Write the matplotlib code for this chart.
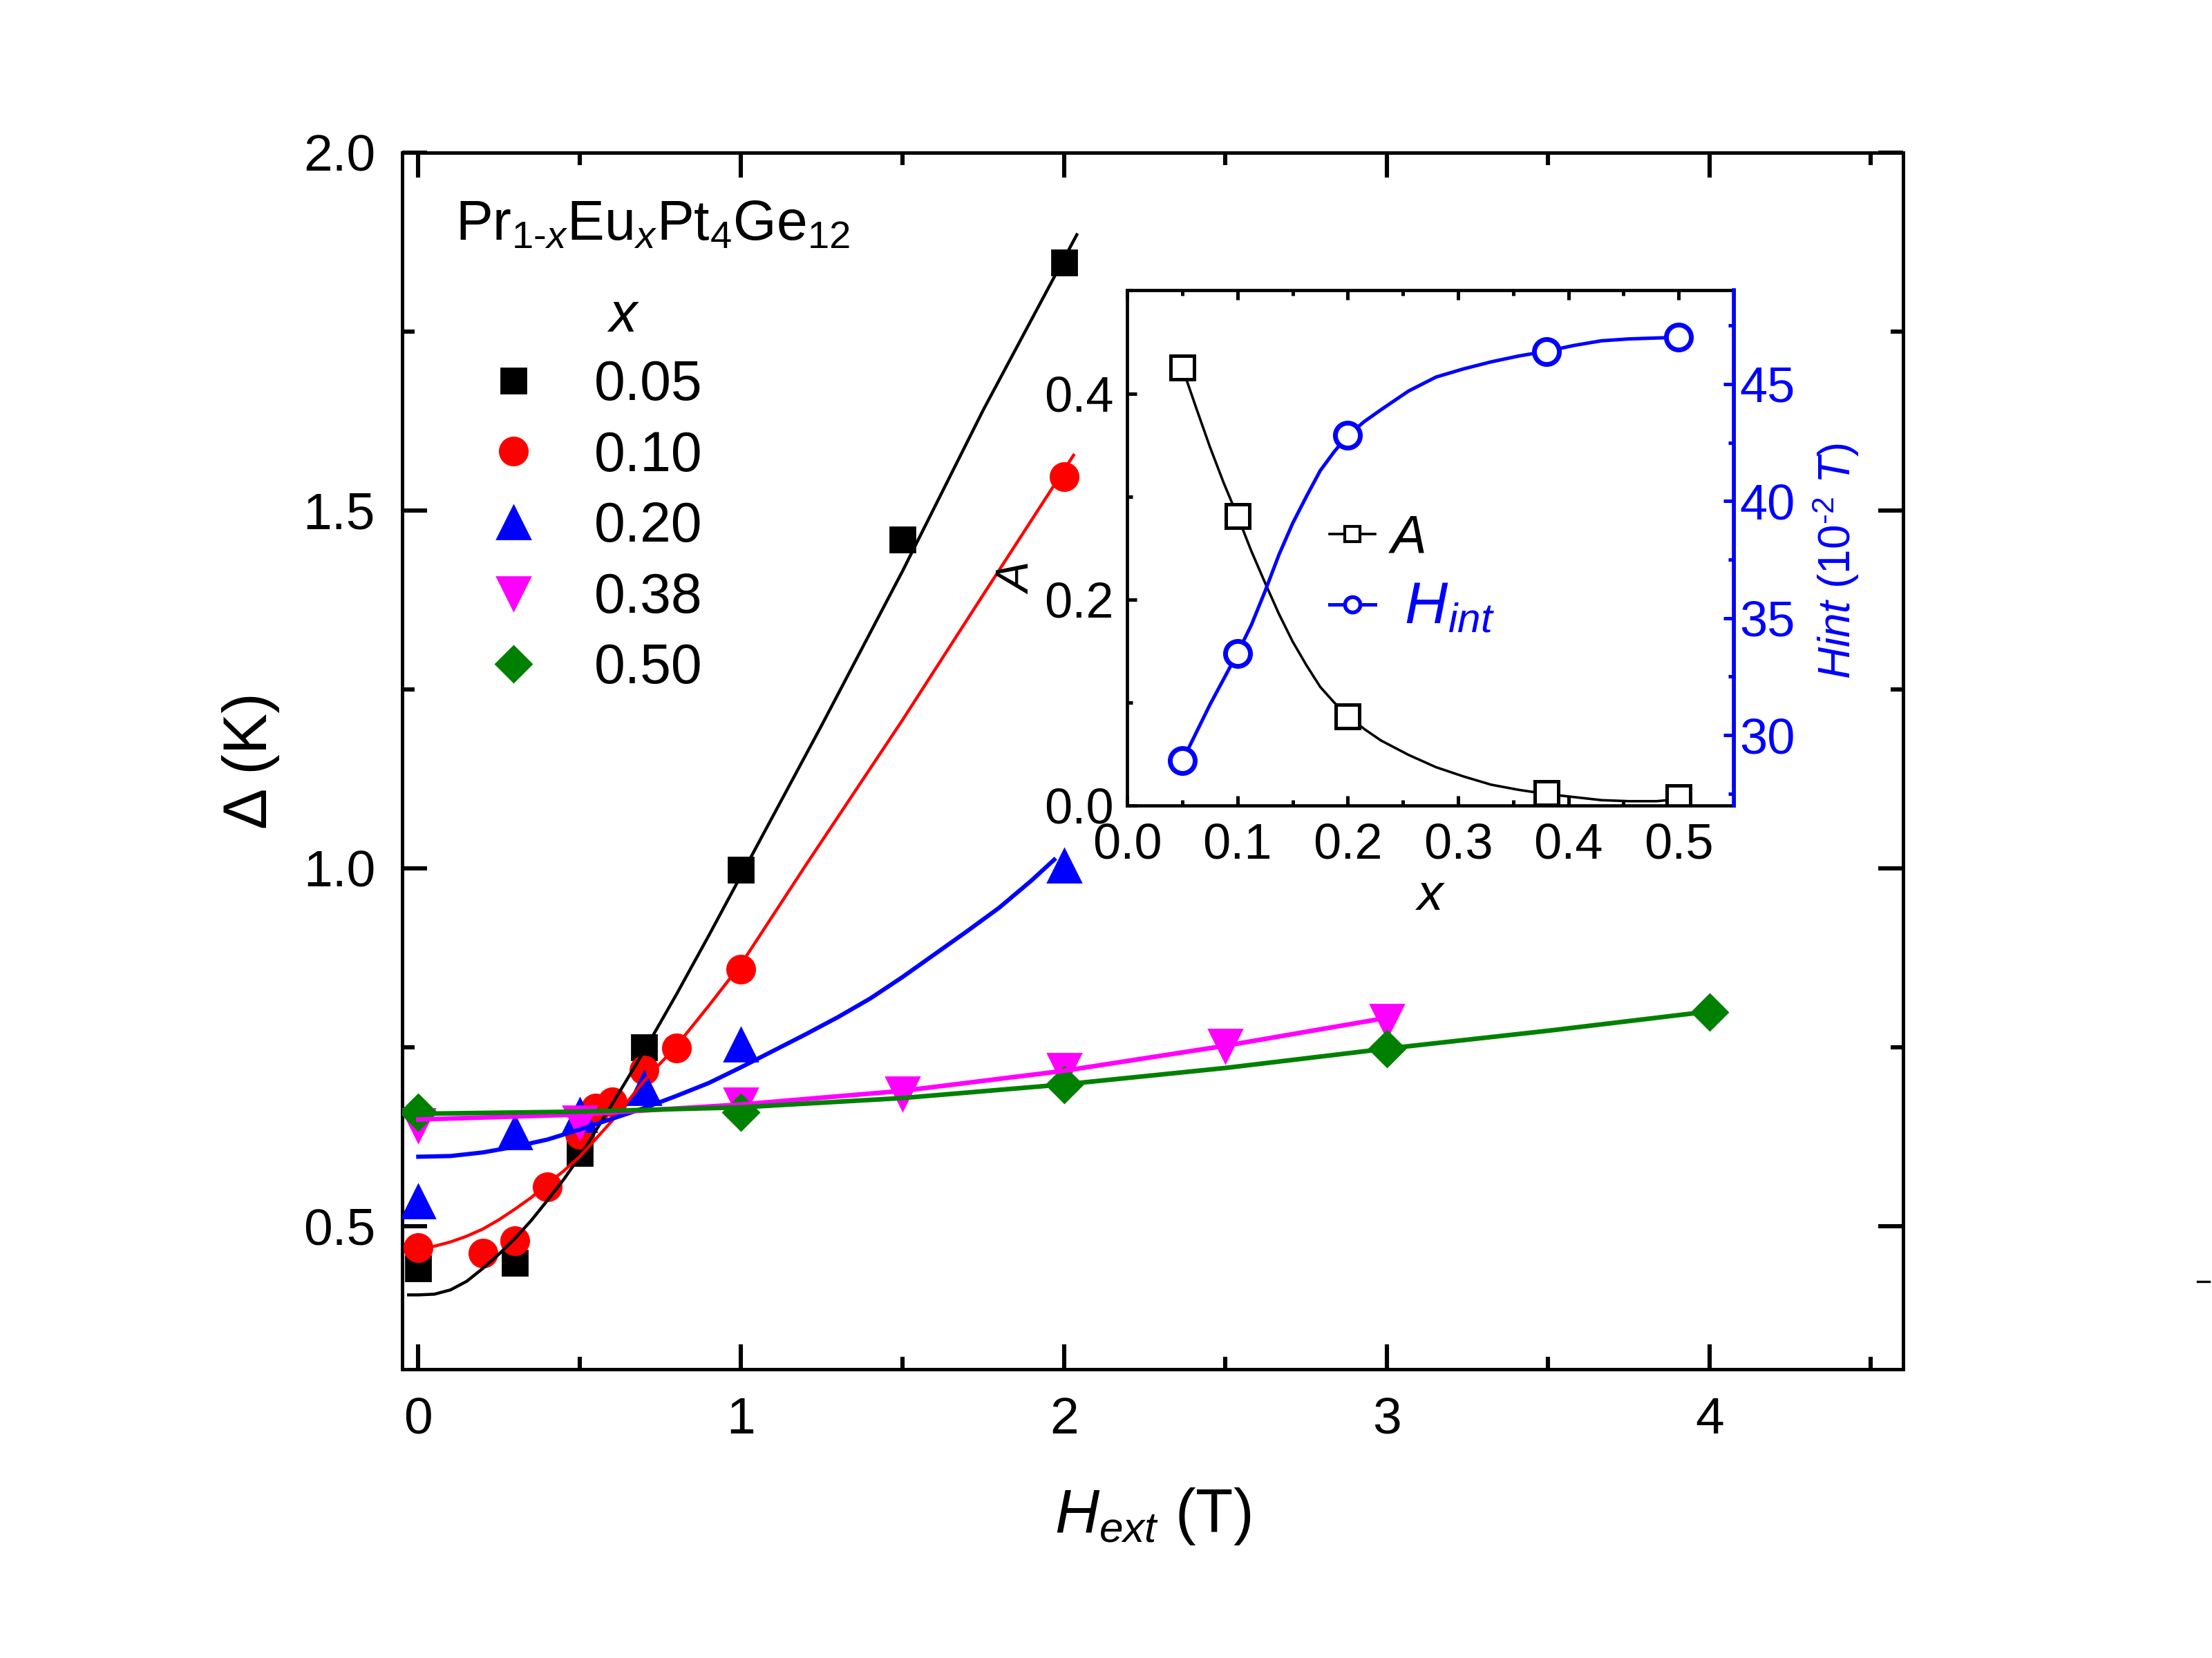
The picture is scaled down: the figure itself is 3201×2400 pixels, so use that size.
import matplotlib
matplotlib.use('Agg')
import matplotlib.pyplot as plt
from matplotlib.ticker import MultipleLocator, FormatStrFormatter
from matplotlib.lines import Line2D

plt.rcParams['font.family'] = ['Liberation Sans', 'DejaVu Sans']
plt.rcParams['mathtext.fontset'] = 'custom'
plt.rcParams['mathtext.rm'] = 'Liberation Sans'
plt.rcParams['mathtext.it'] = 'Liberation Sans:italic'
plt.rcParams['mathtext.bf'] = 'Liberation Sans:bold'

# ---- main panel: gap vs external field, one series per x ----
labels = ['0.05', '0.10', '0.20', '0.38', '0.50']
colors = ['#000000', '#ff0000', '#0000ff', '#ff00ff', '#008000']
markers = ['s', 'o', '^', 'v', 'D']
msizes = [13.3, 14.5, 17, 17, 13.2]
fit_lw = [1.6, 1.6, 2.2, 2.4, 2.4]

H_005 = [0, 0.3, 0.5, 0.7, 1.0, 1.5, 2.0]
D_005 = [0.441, 0.449, 0.602, 0.750, 0.998, 1.459, 1.846]
H_010 = [0, 0.2, 0.3, 0.4, 0.5, 0.55, 0.6, 0.7, 0.8, 1.0, 2.0]
D_010 = [0.470, 0.462, 0.480, 0.555, 0.628, 0.665, 0.674, 0.718, 0.749, 0.859, 1.547]
H_020 = [0, 0.3, 0.5, 0.7, 1.0, 2.0]
D_020 = [0.535, 0.631, 0.655, 0.693, 0.754, 1.004]
H_038 = [0, 0.5, 1.0, 1.5, 2.0, 2.5, 3.0]
D_038 = [0.641, 0.645, 0.670, 0.685, 0.718, 0.752, 0.787]
H_050 = [0, 1.0, 2.0, 3.0, 4.0]
D_050 = [0.659, 0.659, 0.698, 0.748, 0.799]

# fit curves
fH_005 = [-0.03, 0.0, 0.05, 0.1, 0.15, 0.2, 0.25, 0.3, 0.35, 0.4, 0.45, 0.5, 0.6, 0.7,
          0.8, 0.9, 1.0, 1.25, 1.5, 1.75, 2.04]
fD_005 = [0.404, 0.404, 0.405, 0.411, 0.423, 0.441, 0.461, 0.483, 0.508, 0.536, 0.565, 0.597,
          0.670, 0.745, 0.824, 0.906, 0.99, 1.20, 1.415, 1.64, 1.885]
fH_010 = [0, 0.05, 0.1, 0.15, 0.2, 0.25, 0.3, 0.35, 0.4, 0.45, 0.5, 0.6, 0.7, 0.8, 0.9,
          1.0, 1.2, 1.5, 1.75, 2.03]
fD_010 = [0.470, 0.472, 0.478, 0.486, 0.496, 0.509, 0.524, 0.540, 0.559, 0.577, 0.597, 0.647,
          0.703, 0.752, 0.808, 0.866, 1.004, 1.207, 1.382, 1.577]
fH_020 = [0, 0.1, 0.2, 0.3, 0.4, 0.5, 0.6, 0.7, 0.8, 0.9, 1.0, 1.1, 1.2, 1.3, 1.4, 1.5,
          1.6, 1.7, 1.8, 1.9, 1.97]
fD_020 = [0.597, 0.598, 0.603, 0.611, 0.621, 0.635, 0.650, 0.665, 0.682, 0.700, 0.722, 0.745,
          0.768, 0.792, 0.818, 0.848, 0.880, 0.912, 0.945, 0.983, 1.012]
fH_038 = [0, 0.5, 1.0, 1.5, 2.0, 2.5, 3.0]
fD_038 = [0.649, 0.656, 0.670, 0.689, 0.717, 0.752, 0.791]
fH_050 = [0, 0.5, 1.0, 1.5, 2.0, 2.5, 3.0, 3.5, 4.0]
fD_050 = [0.657, 0.660, 0.666, 0.679, 0.698, 0.721, 0.748, 0.773, 0.800]

data = [(H_005, D_005), (H_010, D_010), (H_020, D_020), (H_038, D_038), (H_050, D_050)]
fits = [(fH_005, fD_005), (fH_010, fD_010), (fH_020, fD_020), (fH_038, fD_038), (fH_050, fD_050)]

# ---- inset: A and H_int vs x ----
x_in = [0.05, 0.1, 0.2, 0.38, 0.5]
A_in = [0.425, 0.281, 0.0865, 0.012, 0.008]
Hint_in = [28.9, 33.5, 42.8, 46.4, 47.0]
cx_in = [0.05, 0.0625, 0.075, 0.0875, 0.1, 0.1125, 0.125, 0.1375, 0.15, 0.1625, 0.175, 0.1875,
         0.2, 0.215, 0.23, 0.255, 0.28, 0.305, 0.33, 0.355, 0.38, 0.405, 0.43, 0.455, 0.48, 0.5]
cy_A = [0.425, 0.386, 0.348, 0.313, 0.281, 0.247, 0.216, 0.186, 0.159, 0.136, 0.115, 0.100,
        0.087, 0.074, 0.063, 0.049, 0.037, 0.028, 0.020, 0.015, 0.011, 0.008, 0.005, 0.004,
        0.004, 0.006]
cy_H = [28.9, 30.1, 31.3, 32.4, 33.5, 34.7, 36.15, 37.7, 39.05, 40.2, 41.3, 42.1,
        42.8, 43.4, 43.9, 44.7, 45.3, 45.65, 45.95, 46.2, 46.4, 46.65, 46.85, 46.93, 46.97, 47.0]

fig = plt.figure(figsize=(16.005, 12), dpi=200)
ax = fig.add_axes([0.1818, 0.1741, 0.6786, 0.734])

handles = []
for (h, d), (fh, fd), c, m, ms, lw in zip(data, fits, colors, markers, msizes, fit_lw):
    p, = ax.plot(h, d, linestyle='none', marker=m, ms=ms, color=c, mec=c, zorder=3)
    ax.plot(fh, fd, '-', color=c, lw=lw, zorder=4)
    handles.append(p)

ax.set_xlim(-0.05, 4.6)
ax.set_ylim(0.3, 2.0)
ax.xaxis.set_major_locator(MultipleLocator(1))
ax.xaxis.set_minor_locator(MultipleLocator(0.5))
ax.yaxis.set_major_locator(MultipleLocator(0.5))
ax.yaxis.set_minor_locator(MultipleLocator(0.25))
ax.yaxis.set_major_formatter(FormatStrFormatter('%.1f'))
ax.tick_params(which='both', direction='in', top=True, right=True, width=2.2)
ax.tick_params(which='major', length=13, labelsize=27, pad=14)
ax.tick_params(which='minor', length=6.5)
for s in ax.spines.values():
    s.set_linewidth(1.8)
ax.set_xlabel(r'$H_{ext}$ (T)', fontsize=32, labelpad=22)
ax.set_ylabel('Δ (K)', fontsize=32, labelpad=12)

ax.text(0.0357, 0.928, 'Pr$_{1\u2010x}$Eu$_{x}$Pt$_{4}$Ge$_{12}$', transform=ax.transAxes,
        fontsize=29, ha='left', va='baseline')
ax.text(0.147, 0.853, 'x', style='italic', transform=ax.transAxes,
        fontsize=29, ha='center', va='baseline')
ax.legend(handles, labels, loc='center left', bbox_to_anchor=(0.0555, 0.692),
          frameon=False, fontsize=29, handlelength=1.0, handletextpad=0.95,
          labelspacing=0.33, borderpad=0, borderaxespad=0)

# inset
ins = fig.add_axes([0.5096, 0.5143, 0.2742, 0.3105])
ins.set_facecolor('white')
ins.set_zorder(5)
ins.plot(cx_in, cy_A, '-', color='k', lw=1.3)
ins.plot(x_in, A_in, linestyle='none', marker='s', ms=12, mfc='white', mec='k', mew=1.8)
ins.set_xlim(0, 0.55)
ins.set_ylim(0, 0.5)
ins.xaxis.set_major_locator(MultipleLocator(0.1))
ins.xaxis.set_minor_locator(MultipleLocator(0.05))
ins.yaxis.set_major_locator(MultipleLocator(0.2))
ins.yaxis.set_minor_locator(MultipleLocator(0.1))
ins.xaxis.set_major_formatter(FormatStrFormatter('%.1f'))
ins.yaxis.set_major_formatter(FormatStrFormatter('%.1f'))
ins.tick_params(which='both', direction='in', top=True, right=False, width=1.8)
ins.tick_params(which='major', length=5, labelsize=26)
ins.tick_params(axis='y', which='major', pad=7)
ins.tick_params(axis='x', which='major', pad=9)
ins.tick_params(which='minor', length=3)
for s in ins.spines.values():
    s.set_linewidth(1.7)
ins.set_xlabel('x', style='italic', fontsize=27, labelpad=2)
ins.set_ylabel('A', style='italic', fontsize=24, labelpad=0)
ins.yaxis.set_label_coords(-0.144, 0.44)

tw = ins.twinx()
tw.plot(cx_in, cy_H, '-', color='#0000ff', lw=1.8)
tw.plot(x_in, Hint_in, linestyle='none', marker='o', ms=13, mfc='white', mec='#0000ff', mew=2.5)
tw.set_ylim(27, 49)
tw.yaxis.set_major_locator(MultipleLocator(5))
tw.yaxis.set_minor_locator(MultipleLocator(2.5))
tw.tick_params(which='both', direction='in', colors='#0000ff', width=1.8)
tw.tick_params(which='major', length=5.5, labelsize=26, pad=3)
tw.tick_params(which='minor', length=3)
tw.spines['right'].set_color('#0000ff')
tw.spines['right'].set_linewidth(2.0)
for k in ['left', 'top', 'bottom']:
    tw.spines[k].set_visible(False)
tw.set_ylabel('$Hint$ $(10^{\u20102}$ $T)$', color='#0000ff', fontsize=23, labelpad=8)
tw.yaxis.set_label_coords(1.126, 0.474)

hA = Line2D([], [], color='k', lw=1.3, marker='s', ms=8, mfc='white', mec='k', mew=1.5)
hH = Line2D([], [], color='#0000ff', lw=1.8, marker='o', ms=8, mfc='white', mec='#0000ff', mew=2.0)
leg = tw.legend([hA, hH], [r'$A$', r' $H_{int}$'], loc='center left',
                bbox_to_anchor=(0.333, 0.448), frameon=False, fontsize=28,
                handlelength=0.85, handletextpad=0.25, labelspacing=0.3,
                borderpad=0, borderaxespad=0)
leg.get_texts()[1].set_color('#0000ff')
leg.get_texts()[1].set_fontsize(31)

fig.add_artist(Line2D([3180 / 3201, 3197 / 3201], [1 - 1855 / 2400] * 2,
                      color='k', lw=1.2, transform=fig.transFigure))

fig.savefig('out.png', dpi=200, facecolor='white')
